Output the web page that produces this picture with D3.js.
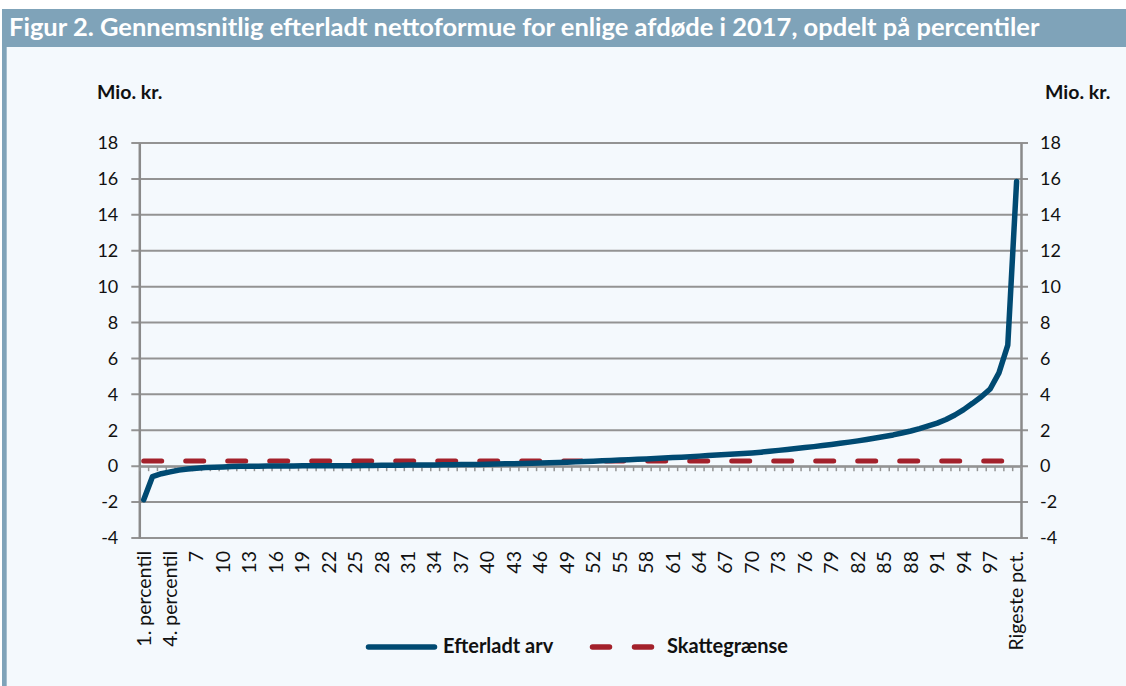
<!DOCTYPE html>
<html>
<head>
<meta charset="utf-8">
<script src="https://cdn.jsdelivr.net/npm/d3@7"></script>
<style>
  body { margin: 0; background: #fff; }
  svg { display: block; font-family: Lato, "Open Sans", sans-serif; }
</style>
</head>
<body>
<div id="chart"></div>
<script>
// percentile categories, 1..100
const categories = d3.range(1, 101).map(function(p) {
  if (p == 1) return "1. percentil";
  if (p == 4) return "4. percentil";
  if (p == 100) return "Rigeste pct.";
  return String(p);
});

// Efterladt arv, mio. kr.
const arv = [
  -1.87, -0.58, -0.42, -0.32, -0.22, -0.16, -0.11, -0.08, -0.06, -0.04,
  -0.02, -0.01, 0.00, 0.00, 0.01, 0.01, 0.01, 0.01, 0.02, 0.02,
  0.02, 0.02, 0.03, 0.03, 0.03, 0.04, 0.04, 0.05, 0.05, 0.05,
  0.06, 0.06, 0.07, 0.07, 0.08, 0.08, 0.09, 0.10, 0.10, 0.11,
  0.12, 0.13, 0.14, 0.15, 0.16, 0.18, 0.19, 0.21, 0.22, 0.24,
  0.26, 0.28, 0.30, 0.32, 0.34, 0.36, 0.38, 0.40, 0.43, 0.45,
  0.48, 0.50, 0.53, 0.56, 0.59, 0.62, 0.65, 0.68, 0.71, 0.74,
  0.78, 0.83, 0.88, 0.93, 0.99, 1.04, 1.09, 1.15, 1.21, 1.28,
  1.34, 1.41, 1.49, 1.57, 1.65, 1.74, 1.85, 1.96, 2.09, 2.24,
  2.40, 2.60, 2.85, 3.15, 3.50, 3.87, 4.30, 5.20, 6.74, 15.85
];

// Skattegrænse (bundfradrag), mio. kr.
const skattegraense = categories.map(() => 0.289);

const yTicks = [-4, -2, 0, 2, 4, 6, 8, 10, 12, 14, 16, 18];
const xLabels = categories.filter((c, i) => i % 3 == 0);

const titleText = "Figur 2. Gennemsnitlig efterladt nettoformue for enlige afdøde i 2017, opdelt på percentiler";
const unitText = "Mio. kr.";
const seriesNames = ["Efterladt arv", "Skattegrænse"];

const w = 1126;
const h = 686;
const plotLeft = 139.3;
const plotRight = 1021;
const plotTop = 143;
const plotBottom = 538;

const blue = "#004a72";
const red = "#a3212b";
const grid = "#939393";

const svg = d3.select("#chart")
  .append("svg")
  .attr("width", w)
  .attr("height", h);

// frame + title bar
svg.append("rect").attr("x", 6.7).attr("y", 47).attr("width", w).attr("height", h)
   .attr("fill", "#f4f9fd");
svg.append("rect").attr("x", 2).attr("y", 9).attr("width", w).attr("height", 38)
   .attr("fill", "#7fa3b9");
svg.append("rect").attr("x", 2).attr("y", 9).attr("width", 4.7).attr("height", h)
   .attr("fill", "#7fa3b9");

const title = svg.append("text")
  .attr("x", 9)
  .attr("y", 36)
  .attr("fill", "#ffffff")
  .attr("font-weight", "bold")
  .attr("font-size", 22)
  .text(titleText);
const tl = title.node().getComputedTextLength();
title.attr("font-size", 22 * 1031 / tl);

// scales
const xScale = d3.scaleBand()
  .domain(categories)
  .range([plotLeft, plotRight]);

const xPos = (d, i) => xScale(categories[i]) + xScale.bandwidth() / 2;

const yScale = d3.scaleLinear()
  .domain([-4, 18])
  .range([plotBottom, plotTop]);

// gridlines
svg.append("g")
   .attr("class", "grid")
   .selectAll("line")
   .data(yTicks)
   .enter()
   .append("line")
   .attr("x1", plotLeft - 8)
   .attr("x2", plotRight + 7)
   .attr("y1", (d) => yScale(d))
   .attr("y2", (d) => yScale(d))
   .attr("stroke", grid)
   .attr("stroke-width", 2);

// y axes (plain hyphen for negatives, as in the original)
const yFmt = (d) => String(d);
const yLeft = d3.axisLeft(yScale).tickValues(yTicks).tickFormat(yFmt).tickSize(0).tickPadding(21);
const yRight = d3.axisRight(yScale).tickValues(yTicks).tickFormat(yFmt).tickSize(0).tickPadding(19);

svg.append("g")
   .attr("transform", "translate(" + plotLeft + ",0)")
   .call(yLeft)
   .call((g) => g.select(".domain").attr("stroke", "#8a8a8a").attr("stroke-width", 2.5))
   .call((g) => g.selectAll("text").attr("font-size", 18).attr("fill", "#111").attr("font-family", "Lato"));

svg.append("g")
   .attr("transform", "translate(" + plotRight + ",0)")
   .call(yRight)
   .call((g) => g.select(".domain").attr("stroke", "#8a8a8a").attr("stroke-width", 2.5))
   .call((g) => g.selectAll("text").attr("font-size", 18).attr("fill", "#111").attr("font-family", "Lato"));

// zero line with small category ticks
const boundary = d3.scaleLinear().domain([0, categories.length]).range([plotLeft, plotRight]);
svg.append("g")
   .attr("transform", "translate(0," + yScale(0) + ")")
   .call(d3.axisBottom(boundary).tickValues(d3.range(0, categories.length + 1)).tickSize(5).tickSizeOuter(0).tickFormat(""))
   .call((g) => g.select(".domain").attr("stroke", grid).attr("stroke-width", 2))
   .call((g) => g.selectAll(".tick line").attr("stroke", grid).attr("stroke-width", 1.5));

// category labels at the bottom
svg.append("g")
   .attr("transform", "translate(0," + plotBottom + ")")
   .call(d3.axisBottom(xScale).tickValues(xLabels).tickSize(0).tickPadding(0))
   .call((g) => g.select(".domain").remove())
   .call((g) => g.selectAll("text")
       .attr("font-size", 19.5)
       .attr("font-family", "Lato")
       .attr("fill", "#111")
       .attr("text-anchor", "end")
       .attr("dy", "0.35em")
       .attr("transform", "translate(0,13) rotate(-90)")
       .attr("x", 0)
       .attr("y", 0));

// Skattegrænse line
svg.append("path")
   .datum(skattegraense)
   .attr("fill", "none")
   .attr("stroke", red)
   .attr("stroke-width", 5)
   .attr("stroke-linecap", "round")
   .attr("stroke-dasharray", "18,24")
   .attr("d", d3.line().x(xPos).y((d) => yScale(d)));

// Efterladt arv line
svg.append("path")
   .datum(arv)
   .attr("fill", "none")
   .attr("stroke", blue)
   .attr("stroke-width", 5.5)
   .attr("stroke-linejoin", "round")
   .attr("stroke-linecap", "round")
   .attr("d", d3.line().x(xPos).y((d) => yScale(d)));

// unit labels
svg.append("text").attr("x", 97).attr("y", 99).text(unitText)
   .attr("font-weight", "bold").attr("font-size", 19.5).attr("fill", "#111");
svg.append("text").attr("x", 1045).attr("y", 99).text(unitText)
   .attr("font-weight", "bold").attr("font-size", 19.5).attr("fill", "#111");

// legend
function legend(x1, x2, tx, color, dash, text) {
  svg.append("line")
     .attr("x1", x1).attr("x2", x2)
     .attr("y1", 647).attr("y2", 647)
     .attr("stroke", color)
     .attr("stroke-width", 5.5)
     .attr("stroke-linecap", "round")
     .attr("stroke-dasharray", dash);
  svg.append("text")
     .attr("x", tx).attr("y", 653)
     .attr("font-weight", "bold")
     .attr("font-size", 20)
     .attr("fill", "#111")
     .text(text);
}

legend(368.5, 434.5, 443, blue, null, seriesNames[0]);
legend(592.5, 651.5, 667, red, "17,25", seriesNames[1]);
</script>
</body>
</html>
